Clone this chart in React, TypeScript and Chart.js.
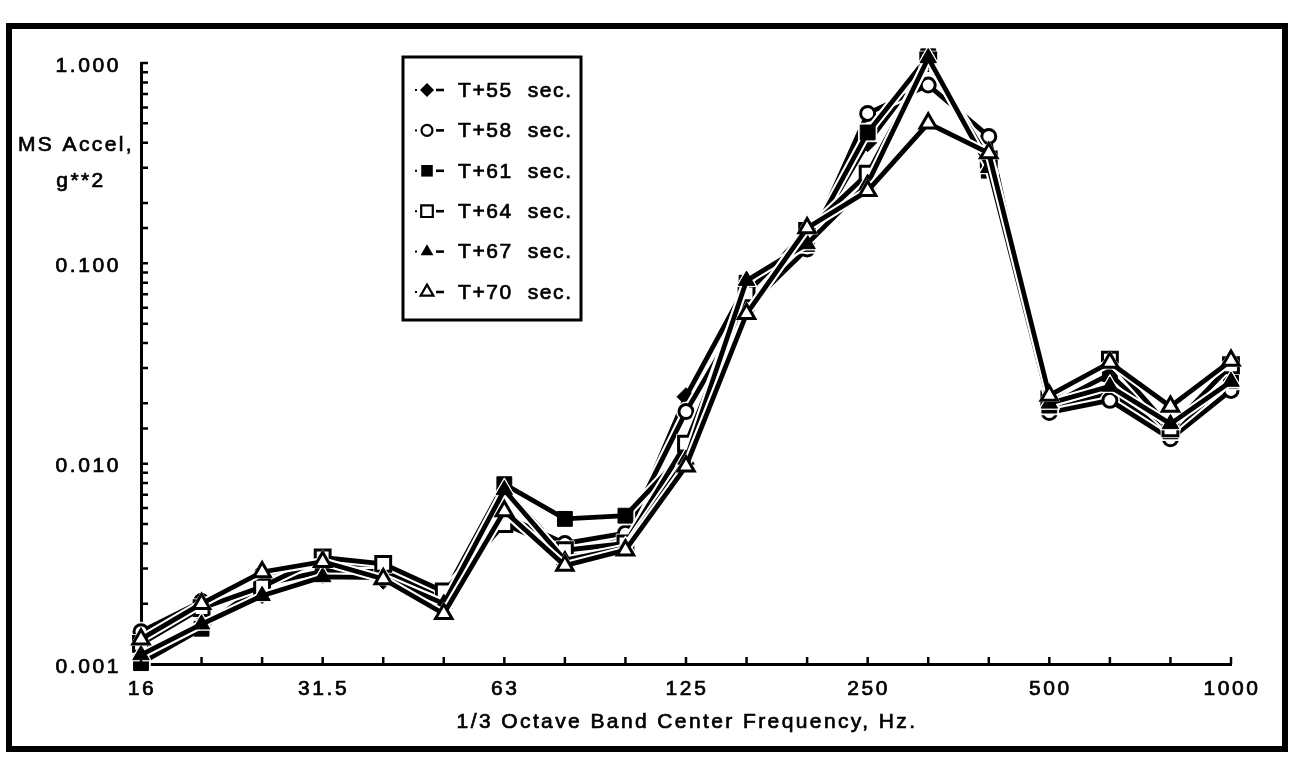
import React, { useEffect, useRef } from 'react';
import { Chart, registerables } from 'chart.js';

Chart.register(...registerables);

// 1/3 octave band centre frequencies, Hz
const bands = ['16', '20', '25', '31.5', '40', '50', '63', '80', '100', '125', '160', '200', '250', '315', '400', '500', '630', '800', '1000'];
const labeledBands = ['16', '31.5', '63', '125', '250', '500', '1000'];
const yDecades = [0.001, 0.01, 0.1, 1];

const seriesNames = ['T+55  sec.', 'T+58  sec.', 'T+61  sec.', 'T+64  sec.', 'T+67  sec.', 'T+70  sec.'];

// Mean-square acceleration, g**2, per band
const msT55 = [0.00106, 0.0016, 0.00222, 0.0028, 0.00262, 0.0021, 0.0075, 0.0035, 0.0042, 0.0216, 0.078, 0.123, 0.4, 1.0, 0.3, 0.0185, 0.0225, 0.014, 0.0235];
const msT58 = [0.00145, 0.00205, 0.0028, 0.0032, 0.003, 0.0021, 0.0055, 0.004, 0.0045, 0.0182, 0.06, 0.118, 0.56, 0.776, 0.43, 0.018, 0.0207, 0.0133, 0.0232];
const msT61 = [0.00101, 0.0015, 0.0025, 0.0029, 0.0029, 0.0022, 0.0079, 0.0053, 0.0055, 0.0115, 0.08, 0.125, 0.45, 1.08, 0.29, 0.0195, 0.028, 0.0145, 0.026];
const msT64 = [0.00126, 0.0019, 0.00243, 0.0034, 0.00316, 0.0023, 0.005, 0.0037, 0.004, 0.0126, 0.0708, 0.145, 0.28, 1.03, 0.33, 0.021, 0.033, 0.015, 0.031];
const msT67 = [0.00111, 0.00158, 0.00219, 0.00272, 0.0027, 0.002, 0.0074, 0.0033, 0.0038, 0.0105, 0.082, 0.125, 0.25, 1.06, 0.3, 0.02, 0.0243, 0.0158, 0.0257];
const msT70 = [0.00133, 0.002, 0.00288, 0.00324, 0.00266, 0.00178, 0.0058, 0.0031, 0.0037, 0.0097, 0.056, 0.15, 0.23, 0.5, 0.355, 0.0219, 0.032, 0.0193, 0.0327];

const seriesValues = [msT55, msT58, msT61, msT64, msT67, msT70];

// marker look for each series
const markerStyles = ['rectRot', 'circle', 'rect', 'rect', 'triangle', 'triangle'];
const markerFilled = [true, false, true, false, true, false];
const markerRadius: Record<string, number> = { rectRot: 9, circle: 7, rect: 10.5, triangle: 9.5 };

const FONT = '"Liberation Sans", Arial, Helvetica, sans-serif';
const W = 1296;
const H = 758;

function setText(ctx: CanvasRenderingContext2D, size: number, spacing: number) {
  ctx.font = `${size}px ${FONT}`;
  try {
    (ctx as any).letterSpacing = `${spacing}px`;
  } catch (e) {
    /* older canvas without letterSpacing */
  }
}

// slightly heavy text, filled and thinly outlined
function heavyText(ctx: CanvasRenderingContext2D, s: string, x: number, y: number) {
  ctx.lineWidth = 0.7;
  ctx.strokeStyle = '#000';
  ctx.fillStyle = '#000';
  ctx.fillText(s, x, y);
  ctx.strokeText(s, x, y);
}

function markerPath(ctx: CanvasRenderingContext2D, style: string, x: number, y: number, r: number) {
  ctx.beginPath();
  if (style === 'circle') {
    ctx.arc(x, y, r, 0, Math.PI * 2);
  } else if (style === 'rect') {
    const s = r * Math.SQRT1_2;
    ctx.rect(x - s, y - s, 2 * s, 2 * s);
  } else if (style === 'rectRot') {
    ctx.moveTo(x, y - r);
    ctx.lineTo(x + r, y);
    ctx.lineTo(x, y + r);
    ctx.lineTo(x - r, y);
    ctx.closePath();
  } else {
    const c = Math.cos(Math.PI / 6) * r;
    ctx.moveTo(x, y - r);
    ctx.lineTo(x + c, y + r / 2);
    ctx.lineTo(x - c, y + r / 2);
    ctx.closePath();
  }
}

const decorPlugin = {
  id: 'decor',
  afterDraw(chart: any) {
    const ctx: CanvasRenderingContext2D = chart.ctx;
    const xs = chart.scales.x;
    const ys = chart.scales.y;
    const area = chart.chartArea;
    ctx.save();

    // outer frame
    ctx.strokeStyle = '#000';
    ctx.lineWidth = 6;
    ctx.strokeRect(9, 26, 1276, 723);

    // inward tick marks
    ctx.lineWidth = 2.5;
    ctx.beginPath();
    bands.forEach((_, i) => {
      const px = xs.getPixelForValue(i);
      ctx.moveTo(px, area.bottom);
      ctx.lineTo(px, area.bottom - 7);
    });
    ys.ticks.forEach((t: any) => {
      const py = ys.getPixelForValue(t.value);
      ctx.moveTo(area.left, py);
      ctx.lineTo(area.left + 7, py);
    });
    ctx.stroke();

    ctx.textBaseline = 'middle';

    // y tick labels (decades only)
    setText(ctx, 21, 2.6);
    ctx.textAlign = 'right';
    yDecades.forEach((v) => {
      const py = ys.getPixelForValue(v);
      heavyText(ctx, v.toFixed(3), area.left - 20, py + 3);
    });

    // x tick labels
    ctx.textAlign = 'center';
    bands.forEach((b, i) => {
      if (!labeledBands.includes(b)) return;
      heavyText(ctx, b, xs.getPixelForValue(i) + 1, area.bottom + 25);
    });

    // axis titles
    setText(ctx, 21, 2.4);
    heavyText(ctx, '1/3 Octave Band Center Frequency, Hz.', (area.left + area.right) / 2 + 1, 722);
    heavyText(ctx, 'MS Accel,', 76, 145);
    heavyText(ctx, 'g**2', 81, 181);

    // legend
    const lx = 403;
    const ly = 57;
    const lw = 178;
    const lh = 263;
    ctx.fillStyle = '#fff';
    ctx.fillRect(lx, ly, lw, lh);
    ctx.strokeStyle = '#000';
    ctx.lineWidth = 3;
    ctx.strokeRect(lx, ly, lw, lh);

    seriesNames.forEach((name, i) => {
      const ry = 90 + i * 40.4;
      const style = markerStyles[i];
      ctx.fillStyle = '#000';
      ctx.fillRect(415, ry - 1, 2, 2);
      ctx.fillRect(436, ry - 1.3, 8, 2.6);
      const r = markerRadius[style] * 0.78;
      markerPath(ctx, style, 427, ry, r);
      if (markerFilled[i]) {
        ctx.fillStyle = '#000';
        ctx.fill();
      } else {
        ctx.fillStyle = '#fff';
        ctx.fill();
        ctx.lineWidth = 2.2;
        ctx.strokeStyle = '#000';
        ctx.stroke();
      }
      setText(ctx, 21, 1.6);
      ctx.textAlign = 'left';
      heavyText(ctx, name, 458, ry + 1);
    });

    ctx.restore();
  },
};

export default function App() {
  const canvasRef = useRef<HTMLCanvasElement | null>(null);

  useEffect(() => {
    const canvas = canvasRef.current;
    if (!canvas) return;

    const datasets: any[] = [];
    seriesValues.forEach((values, i) => {
      const style = markerStyles[i];
      const r = markerRadius[style];
      // white casing under each trace, so crossing traces stay separated
      datasets.push({
        label: `casing-${i}`,
        data: values,
        borderColor: '#fff',
        borderWidth: 9,
        pointStyle: style,
        pointRadius: r + 2.5,
        pointBackgroundColor: '#fff',
        pointBorderColor: '#fff',
        pointBorderWidth: 1,
        order: 100 - 2 * i,
        clip: false,
      });
      datasets.push({
        label: seriesNames[i],
        data: values,
        borderColor: '#000',
        borderWidth: 4.8,
        pointStyle: style,
        pointRadius: r,
        pointBackgroundColor: markerFilled[i] ? '#000' : '#fff',
        pointBorderColor: '#000',
        pointBorderWidth: markerFilled[i] ? 1 : 3,
        order: 99 - 2 * i,
        clip: false,
      });
    });

    const chart = new Chart(canvas, {
      type: 'line',
      data: { labels: bands, datasets },
      options: {
        responsive: false,
        animation: false,
        events: [],
        layout: { padding: { left: 0, top: 63, right: W - 1231, bottom: 54 } },
        plugins: {
          legend: { display: false },
          tooltip: { enabled: false },
          title: { display: false },
        },
        elements: { line: { tension: 0 } },
        scales: {
          x: {
            type: 'category',
            offset: false,
            grid: { display: false },
            border: { display: true, color: '#000', width: 3 },
            ticks: { display: false },
            afterFit: (scale: any) => {
              scale.height = 40;
            },
          },
          y: {
            type: 'logarithmic',
            min: 0.001,
            max: 1,
            grid: { display: false },
            border: { display: true, color: '#000', width: 3 },
            ticks: { display: false },
            afterFit: (scale: any) => {
              scale.width = 141;
            },
          },
        },
      },
      plugins: [decorPlugin],
    } as any);

    return () => chart.destroy();
  }, []);

  return (
    <div style={{ position: 'fixed', left: 0, top: 0, width: W, height: H, background: '#fff' }}>
      <canvas ref={canvasRef} width={W} height={H} style={{ display: 'block', width: W, height: H }} />
    </div>
  );
}
